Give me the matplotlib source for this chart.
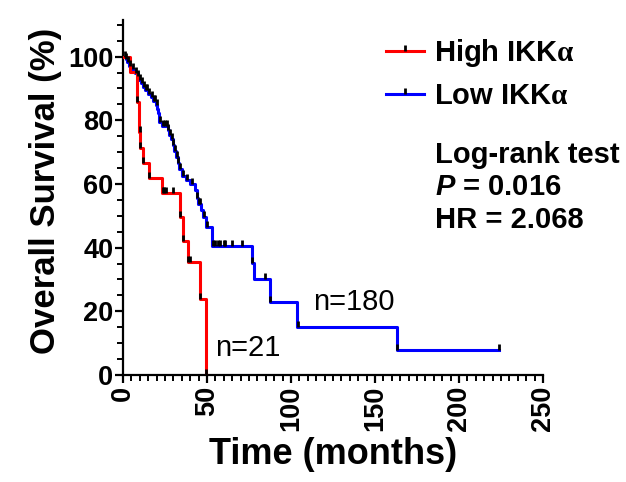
import numpy as np
import matplotlib
matplotlib.use("Agg")
import matplotlib.pyplot as plt
from matplotlib.path import Path
from matplotlib.lines import Line2D
from matplotlib.ticker import MultipleLocator

plt.rcParams['font.family'] = ['Liberation Sans', 'DejaVu Sans']
plt.rcParams['font.weight'] = 'bold'
plt.rcParams['mathtext.fontset'] = 'custom'
plt.rcParams['mathtext.it'] = 'Liberation Sans:italic:bold'
plt.rcParams['mathtext.rm'] = 'Liberation Serif'

# Kaplan-Meier steps (months, % surviving after each drop)
high_t = [0, 4.3, 8.3, 9.8, 10.0, 11.7, 15.2, 23.3, 33.8, 35.8, 38.7, 45.7, 49.5]
high_s = [100, 95.2, 85.7, 76.2, 71.4, 66.7, 61.9, 57.1, 49.5, 42.2, 35.4, 24.0, 0]
high_cens = [8.4, 9.9, 10.1, 12.0, 15.5, 23.6, 24.6, 25.6, 29.7, 33.9, 35.9,
             38.8, 39.6, 45.8, 49.5]

low_t = [0, 1.5, 2.5, 3.5, 5.0, 7.0, 8.8, 9.8, 10.7, 12.0, 13.0, 15.0, 16.7,
         18.0, 19.7, 20.2, 20.7, 21.2, 21.7, 23.0, 26.6, 27.5, 28.5, 29.6, 30.5,
         31.5, 32.6, 33.5, 35.0, 37.5, 39.7, 42.7, 43.8, 44.7, 46.7, 47.7, 49.7,
         52.7, 76.5, 78.0, 87.4, 103.8, 163.0, 224.0]
low_s = [100, 99.4, 98.3, 97.2, 96.1, 95.0, 93.9, 92.8, 91.7, 90.6, 89.5, 88.4,
         87.3, 86.2, 84.9, 83.6, 82.3, 80.9, 79.5, 78.2, 76.8, 75.4, 74.0, 72.3,
         70.5, 68.6, 66.6, 64.6, 62.5, 61.3, 59.9, 58.2, 55.5, 53.8, 51.8, 49.5,
         46.6, 40.4, 35.2, 30.2, 22.9, 15.1, 7.8, 7.8]
low_cens = [1.0, 2.0, 3.0, 4.0, 6.0, 7.5, 9.0, 10.2, 11.2, 12.5, 13.5, 14.2,
            15.5, 17.0, 18.5, 19.0, 20.0, 22.0, 24.0, 25.0, 26.0, 27.0, 28.0,
            29.0, 30.0, 31.0, 32.0, 33.0, 34.0, 36.0, 38.0, 41.0, 44.0, 45.0,
            46.0, 48.0, 50.0, 53.8, 55.0, 56.5, 57.7, 60.2, 61.0, 64.6, 70.6,
            76.7, 84.5, 87.6, 104.0, 163.2, 224.0]


def level_at(times, surv, pts):
    idx = np.searchsorted(times, pts, side='right') - 1
    return np.asarray(surv)[idx]


# censor tick: short vertical mark standing on the curve
tick = Path([(0, 0), (0, 1)])

fig = plt.figure(figsize=(6.26, 4.82), dpi=100)
ax = fig.add_axes([123 / 626, 107 / 482, 420 / 626, 355 / 482])

ax.step(low_t, low_s, where='post', color='#0000ff', lw=2.2, zorder=2)
ax.step(high_t, high_s, where='post', color='#ff0000', lw=2.2, zorder=3)
ax.plot(low_cens, level_at(low_t, low_s, low_cens), ls='none', marker=tick,
        ms=9, mec='k', mfc='none', mew=2, zorder=4)
ax.plot(high_cens, level_at(high_t, high_s, high_cens), ls='none', marker=tick,
        ms=9, mec='k', mfc='none', mew=2, zorder=4)

ax.set_xlim(0, 250)
ax.set_ylim(0, 111.5)
ax.xaxis.set_major_locator(MultipleLocator(50))
ax.xaxis.set_minor_locator(MultipleLocator(5))
ax.yaxis.set_major_locator(MultipleLocator(20))
ax.yaxis.set_minor_locator(MultipleLocator(5))
ax.set_yticks(np.arange(0, 101, 20))

for s in ['top', 'right']:
    ax.spines[s].set_visible(False)
for s in ['left', 'bottom']:
    ax.spines[s].set_linewidth(1.6)
ax.tick_params(which='major', length=6, width=1.6, labelsize=19.5, pad=1)
ax.tick_params(which='minor', length=4, width=1.4)
ax.tick_params(axis='x', labelrotation=90, pad=2)

ax.set_xlabel('Time (months)', fontsize=26, fontweight='bold')
ax.set_ylabel('Overall Survival (%)', fontsize=25, fontweight='bold')
ax.xaxis.set_label_coords(0.5, -0.175)
ax.yaxis.set_label_coords(-0.145, 0.52)

handles = [
    Line2D([], [], color='#ff0000', lw=2.2, marker=tick, ms=9, mec='k', mew=2),
    Line2D([], [], color='#0000ff', lw=2.2, marker=tick, ms=9, mec='k', mew=2),
]
labels = [r'High IKK$\mathrm{\alpha}$', r'Low IKK$\mathrm{\alpha}$']
fig.legend(handles, labels, loc='upper left',
           bbox_to_anchor=(386 / 626, 1 - 37 / 482), frameon=False,
           borderpad=0, borderaxespad=0, handlelength=1.3, handletextpad=0.35,
           labelspacing=0.45, numpoints=1,
           prop={'size': 21, 'weight': 'bold'})

fig.text(435 / 626, 1 - 155 / 482, 'Log-rank test', fontsize=21,
         fontweight='bold', va='center')
fig.text(435 / 626, 1 - 187 / 482, r'$\mathit{P}$ = 0.016', fontsize=21,
         fontweight='bold', va='center')
fig.text(435 / 626, 1 - 220 / 482, 'HR = 2.068', fontsize=21,
         fontweight='bold', va='center')

ax.text(54.6, 8.4, 'n=21', fontsize=21, fontweight='normal', va='center')
ax.text(113, 22.8, 'n=180', fontsize=21, fontweight='normal', va='center')

fig.savefig('out.png', dpi=100)
